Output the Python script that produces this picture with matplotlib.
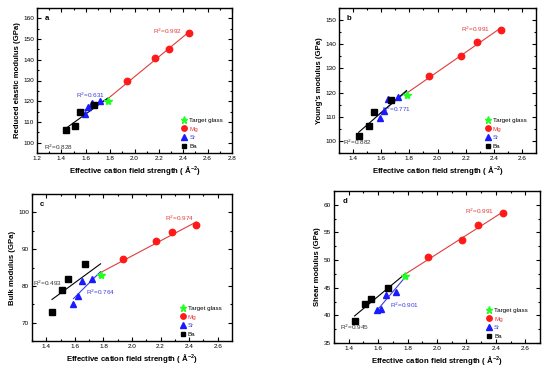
import numpy as np
import matplotlib
matplotlib.use("Agg")
import matplotlib.pyplot as plt
from matplotlib.ticker import MultipleLocator

plt.rcParams['font.family'] = ['Liberation Sans', 'DejaVu Sans']

# effective cation field strength (A^-2)
x_mg = [1.94, 2.17, 2.28, 2.45]
x_sr = [1.59, 1.62, 1.65, 1.72]
x_ba = [1.44, 1.51, 1.55, 1.67]
x_target = 1.78

# reduced elastic modulus (GPa)
er_mg = [130, 141, 145, 153]
er_sr = [114, 117, 119, 120]
er_ba = [106, 108, 115, 118]
er_target = 120

# Young's modulus (GPa)
e_mg = [127, 135, 141, 146]
e_sr = [109.3, 112.3, 117.3, 118.3]
e_ba = [102, 106, 112, 117]
e_target = 119

# bulk modulus (GPa)
k_mg = [87.4, 92.1, 94.6, 96.5]
k_sr = [75.1, 77.3, 81.2, 82.0]
k_ba = [73, 79, 82, 86]
k_target = 82.9

# shear modulus (GPa)
g_mg = [50.5, 53.7, 56.3, 58.5]
g_sr = [41.0, 41.1, 43.6, 44.2]
g_ba = [39.0, 42.0, 43.0, 45.0]
g_target = 47.1

r2_labels = {
    'a': ['R$^2$=0.992', 'R$^2$=0.631', 'R$^2$=0.828'],
    'b': ['R$^2$=0.991', 'R$^2$=0.771', 'R$^2$=0.882'],
    'c': ['R$^2$=0.974', 'R$^2$=0.764', 'R$^2$=0.493'],
    'd': ['R$^2$=0.991', 'R$^2$=0.901', 'R$^2$=0.945'],
}

RED = '#ff1a1a'
BLUE = '#1a1aff'
GREEN = '#22ff22'
LRED = '#e03c3c'
LBLUE = '#3c3cdc'
GRAY = '#333333'


def fit_line(ax, xs, ys, color):
    # linear fit drawn across the points (target glass included)
    p = np.polyfit(xs, ys, 1)
    xx = np.array([min(xs), max(xs)])
    ax.plot(xx, np.polyval(p, xx), color=color, lw=0.8, zorder=2)


def panel(rect, letter, mg, sr, ba, target, ylabel, xlim, ylim, ymajor, yminor,
          xmajor, label_pos):
    ax = fig.add_axes(rect)
    fit_line(ax, x_mg + [x_target], mg + [target], LRED)
    fit_line(ax, x_sr + [x_target], sr + [target], LBLUE)
    fit_line(ax, x_ba + [x_target], ba + [target], 'black')

    ax.plot([x_target], [target], ls='none', marker='*', ms=6, color=GREEN,
            label='Target glass', zorder=4)
    ax.plot(x_mg, mg, ls='none', marker='o', ms=4.6, color=RED, label='Mg', zorder=4)
    ax.plot(x_sr, sr, ls='none', marker='^', ms=4.6, color=BLUE, label='Sr', zorder=4)
    ax.plot(x_ba, ba, ls='none', marker='s', ms=4.0, color='black', label='Ba', zorder=4)

    ax.set_xlim(*xlim)
    ax.set_ylim(*ylim)
    ax.xaxis.set_major_locator(MultipleLocator(xmajor))
    ax.xaxis.set_minor_locator(MultipleLocator(0.1))
    ax.yaxis.set_major_locator(MultipleLocator(ymajor))
    ax.yaxis.set_minor_locator(MultipleLocator(yminor))
    ax.xaxis.set_major_formatter(plt.FormatStrFormatter('%.1f'))
    ax.tick_params(which='both', direction='in', top=True, right=True,
                   labelsize=4.6, width=0.8, pad=2)
    ax.tick_params(which='major', length=2.8)
    ax.tick_params(which='minor', length=1.5)
    for s in ax.spines.values():
        s.set_linewidth(1.0)

    ax.set_xlabel('Effective cation field strength ( \u00c5$^{\\mathregular{-2}}$)',
                  fontsize=5.6, fontweight='bold', labelpad=2)
    ax.set_ylabel(ylabel, fontsize=5.6, fontweight='bold', labelpad=2)
    ax.text(0.04, 0.93, letter, transform=ax.transAxes, fontsize=5.6,
            fontweight='bold', va='center')

    labels = r2_labels[letter]
    colors = [LRED, LBLUE, GRAY]
    for txt, pos, c in zip(labels, label_pos, colors):
        ax.text(pos[0], pos[1], txt, color=c, fontsize=4.6, ha='center', va='center')

    leg = ax.legend(loc='lower left', bbox_to_anchor=(0.72, 0.0), frameon=False,
                    fontsize=4.5, handletextpad=0.3, labelspacing=0.55,
                    handlelength=1.0, borderaxespad=0.2, markerscale=0.85)
    for t, c in zip(leg.get_texts(), ['black', LRED, LBLUE, 'black']):
        t.set_color(c)
    return ax


fig = plt.figure(figsize=(5.5, 3.72), dpi=100)

panel([37 / 550, 1 - 153 / 372, 195 / 550, 145 / 372], 'a', er_mg, er_sr, er_ba,
      er_target, 'Reduced elastic modulus (GPa)', (1.2, 2.8), (95, 165), 10, 5, 0.2,
      [(2.27, 153.5), (1.64, 123), (1.38, 97.8)])
panel([339 / 550, 1 - 153 / 372, 197 / 550, 145 / 372], 'b', e_mg, e_sr, e_ba,
      e_target, "Young's modulus (GPa)", (1.3, 2.7), (95, 155), 10, 5, 0.2,
      [(2.27, 146.3), (1.71, 113), (1.43, 99.3)])
panel([32 / 550, 1 - 341 / 372, 200 / 550, 147 / 372], 'c', k_mg, k_sr, k_ba,
      k_target, 'Bulk modulus (GPa)', (1.3, 2.7), (65, 105), 10, 5, 0.2,
      [(2.33, 98.3), (1.78, 78.3), (1.41, 80.8)])
panel([334 / 550, 1 - 343 / 372, 206 / 550, 152 / 372], 'd', g_mg, g_sr, g_ba,
      g_target, 'Shear modulus (GPa)', (1.3, 2.7), (35, 62.5), 5, 2.5, 0.2,
      [(2.29, 58.9), (1.78, 41.8), (1.44, 37.8)])

fig.savefig('out.png', dpi=100)
